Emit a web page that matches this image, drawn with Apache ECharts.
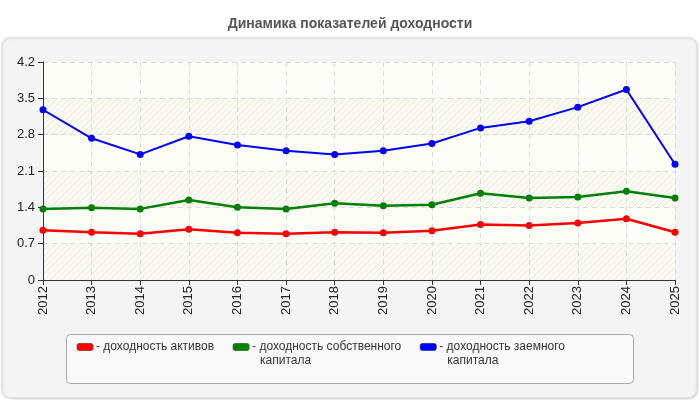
<!DOCTYPE html>
<html>
<head>
<meta charset="utf-8">
<script src="https://cdn.jsdelivr.net/npm/echarts@6/dist/echarts.min.js"></script>
<style>
  html, body { margin: 0; padding: 0; background: #fff; }
  #main { width: 700px; height: 400px; }
</style>
</head>
<body>
<div id="main"></div>
<script>
var years = ['2012', '2013', '2014', '2015', '2016', '2017', '2018', '2019', '2020', '2021', '2022', '2023', '2024', '2025'];
var assets = [0.96, 0.92, 0.89, 0.98, 0.91, 0.89, 0.92, 0.91, 0.95, 1.07, 1.05, 1.10, 1.18, 0.92];
var equity = [1.37, 1.39, 1.37, 1.54, 1.40, 1.37, 1.48, 1.43, 1.45, 1.67, 1.58, 1.60, 1.71, 1.58];
var borrowed = [3.28, 2.73, 2.42, 2.77, 2.60, 2.49, 2.42, 2.49, 2.63, 2.93, 3.06, 3.33, 3.67, 2.23];
var yTicks = { min: 0, max: 4.2, step: 0.7 };

var names = ['доходность активов', 'доходность собственного капитала', 'доходность заемного капитала'];
var labels = {};
labels[names[0]] = '{r| }{s| }{t|- доходность активов}\n{sp| }{t| }';
labels[names[1]] = '{g| }{s| }{t|- доходность собственного}\n{sp| }{t|капитала}';
labels[names[2]] = '{b| }{s| }{t|- доходность заемного}\n{sp| }{t|капитала}';

// faint diagonal hatch for every other band
var hatch = document.createElement('canvas');
hatch.width = 6;
hatch.height = 6;
var hc = hatch.getContext('2d');
hc.fillStyle = '#fbfbf3';
hc.fillRect(0, 0, 6, 6);
hc.strokeStyle = 'rgba(0,0,0,0.07)';
hc.lineWidth = 1;
hc.beginPath();
hc.moveTo(0, 6); hc.lineTo(6, 0);
hc.moveTo(-3, 3); hc.lineTo(3, -3);
hc.moveTo(3, 9); hc.lineTo(9, 3);
hc.stroke();

function swatch(color) {
    return { width: 16, height: 7, backgroundColor: color, borderColor: '#777', borderWidth: 0.5, borderRadius: 2 };
}

var chart = echarts.init(document.getElementById('main'));
var option = {
    backgroundColor: '#fff',
    animation: false,
    textStyle: { fontFamily: 'Arial, "Liberation Sans", sans-serif' },
    title: {
        text: 'Динамика показателей доходности',
        left: 'center',
        top: 12,
        textStyle: { fontSize: 14, fontWeight: 'bold', color: '#555' }
    },
    graphic: [
        {
            type: 'rect', z: -10,
            shape: { x: 1.5, y: 37.5, width: 695, height: 360, r: 8 },
            style: { fill: '#f4f4f4', stroke: '#e2e2e2', lineWidth: 1, shadowColor: 'rgba(0,0,0,0.15)', shadowBlur: 2, shadowOffsetX: 1, shadowOffsetY: 1 }
        },
        {
            type: 'rect', z: -5,
            shape: { x: 66.5, y: 334.5, width: 567, height: 49, r: 4 },
            style: { fill: '#f9f9f9', stroke: '#aaa', lineWidth: 1 }
        }
    ],
    legend: {
        data: names,
        left: 71,
        top: 341,
        padding: 0,
        itemGap: 13,
        itemWidth: 0,
        itemHeight: 0,
        selectedMode: false,
        formatter: function (name) { return labels[name]; },
        textStyle: {
            color: '#333',
            fontSize: 12,
            rich: {
                t: { fontSize: 12, color: '#333', lineHeight: 14 },
                r: swatch('#ff0000'),
                g: swatch('#008000'),
                b: swatch('#0000ff'),
                s: { width: 3, height: 7 },
                sp: { width: 27, height: 7 }
            }
        }
    },
    grid: { left: 43, right: 25, top: 62, bottom: 120 },
    xAxis: {
        type: 'category',
        data: years,
        boundaryGap: false,
        axisLine: { lineStyle: { color: '#333', width: 1 } },
        axisTick: { alignWithLabel: true, length: 5, lineStyle: { color: '#333' } },
        axisLabel: { rotate: 90, fontSize: 13, color: '#222', margin: 6 },
        splitLine: { show: true, lineStyle: { color: '#dcdcdc', type: [5, 4] } }
    },
    yAxis: {
        type: 'value',
        min: yTicks.min,
        max: yTicks.max,
        interval: yTicks.step,
        axisLine: { show: true, lineStyle: { color: '#333' } },
        axisTick: { show: true, length: 5, lineStyle: { color: '#333' } },
        axisLabel: {
            fontSize: 13, color: '#222', margin: 8,
            formatter: function (v) { return v === 0 ? '0' : v.toFixed(1); }
        },
        splitLine: { lineStyle: { color: '#dcdcdc', type: [5, 4] } },
        splitArea: {
            show: true,
            areaStyle: { color: [{ image: hatch, repeat: 'repeat' }, '#fdfdf7'] }
        }
    },
    series: [
        {
            name: names[0], type: 'line', data: assets,
            symbol: 'circle', symbolSize: 7,
            lineStyle: { color: '#ff0000', width: 2.5 },
            itemStyle: { color: '#ff0000' }
        },
        {
            name: names[1], type: 'line', data: equity,
            symbol: 'circle', symbolSize: 7,
            lineStyle: { color: '#008000', width: 2.5 },
            itemStyle: { color: '#008000' }
        },
        {
            name: names[2], type: 'line', data: borrowed,
            symbol: 'circle', symbolSize: 7,
            lineStyle: { color: '#0000ff', width: 2 },
            itemStyle: { color: '#0000ff' }
        }
    ]
};
chart.setOption(option);
</script>
</body>
</html>
